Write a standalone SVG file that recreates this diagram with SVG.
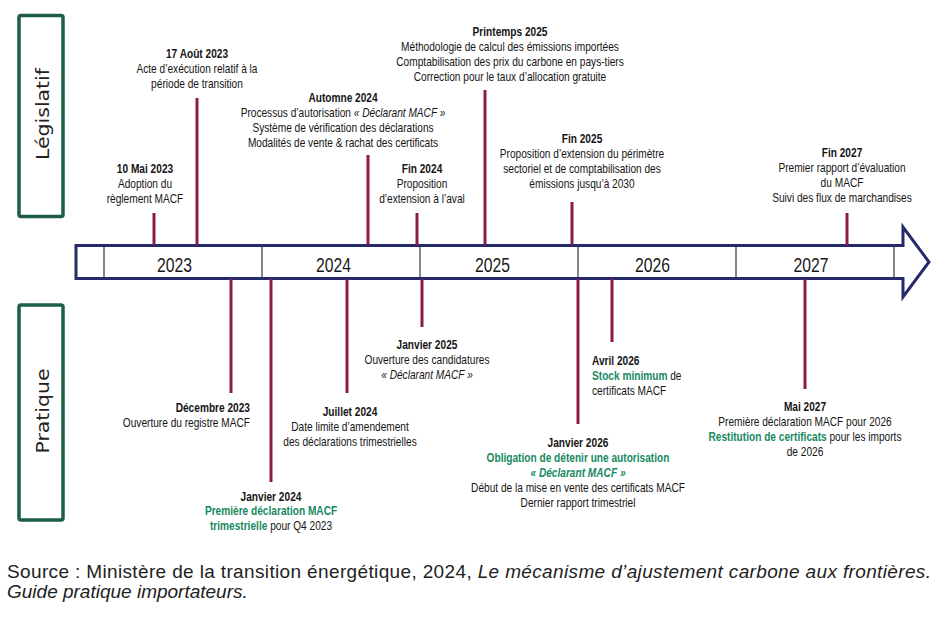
<svg xmlns="http://www.w3.org/2000/svg" width="938" height="618" viewBox="0 0 938 618">
<style>
.t{font-family:"Liberation Sans",Arial,sans-serif;font-size:12px;fill:#151515;text-anchor:middle}
.s{text-anchor:start}
.e{text-anchor:end}
.b{font-weight:bold}
.g{fill:#178a5f;font-weight:bold}
.i{font-style:italic}
.tick{stroke:#8a1e3e;stroke-width:3;fill:none}
.side{fill:none;stroke:#1d5e44;stroke-width:3.5}
.lab{font-family:"DejaVu Sans",sans-serif;font-size:18px;fill:#222;text-anchor:middle}
.yr{font-family:"Liberation Sans",Arial,sans-serif;font-size:20px;fill:#1a1a1a;text-anchor:middle}
.div{stroke:#454545;stroke-width:1.3}
.src{font-family:"Liberation Sans",Arial,sans-serif;font-size:19px;fill:#222}
</style>
<rect width="938" height="618" fill="#fff"/>
<g id="legislatif">
<rect class="side" x="19" y="15.5" width="44" height="201" rx="2"/>
<text class="lab" transform="translate(49,114) rotate(-90)" textLength="92" lengthAdjust="spacingAndGlyphs">Législatif</text>
</g>
<g id="pratique">
<rect class="side" x="19" y="305" width="44" height="215" rx="2"/>
<text class="lab" transform="translate(48.5,411) rotate(-90)" textLength="85" lengthAdjust="spacingAndGlyphs">Pratique</text>
</g>
<g id="timeline">
<path d="M76,245.5 H903 V227 L929,262 L903,297 V278.5 H76 Z" fill="#fff" stroke="#262a6b" stroke-width="3" stroke-linejoin="miter"/>
<line class="div" x1="104" y1="247" x2="104" y2="277"/>
<line class="div" x1="262" y1="247" x2="262" y2="277"/>
<line class="div" x1="420" y1="247" x2="420" y2="277"/>
<line class="div" x1="578" y1="247" x2="578" y2="277"/>
<line class="div" x1="736" y1="247" x2="736" y2="277"/>
<line class="div" x1="894" y1="247" x2="894" y2="277"/>
<text class="yr" x="174.5" y="272" textLength="35" lengthAdjust="spacingAndGlyphs">2023</text>
<text class="yr" x="333.5" y="272" textLength="35" lengthAdjust="spacingAndGlyphs">2024</text>
<text class="yr" x="492.5" y="272" textLength="35" lengthAdjust="spacingAndGlyphs">2025</text>
<text class="yr" x="652.5" y="272" textLength="35" lengthAdjust="spacingAndGlyphs">2026</text>
<text class="yr" x="811" y="272" textLength="35" lengthAdjust="spacingAndGlyphs">2027</text>
</g>
<g id="connectors">
<line class="tick" x1="154" y1="213" x2="154" y2="245"/>
<line class="tick" x1="197" y1="98" x2="197" y2="245"/>
<line class="tick" x1="368" y1="155" x2="368" y2="245"/>
<line class="tick" x1="417" y1="213" x2="417" y2="245"/>
<line class="tick" x1="485" y1="90" x2="485" y2="245"/>
<line class="tick" x1="572" y1="202" x2="572" y2="245"/>
<line class="tick" x1="847" y1="213" x2="847" y2="245"/>
<line class="tick" x1="231" y1="279" x2="231" y2="393"/>
<line class="tick" x1="271" y1="279" x2="271" y2="482"/>
<line class="tick" x1="347" y1="279" x2="347" y2="393"/>
<line class="tick" x1="422" y1="279" x2="422" y2="327"/>
<line class="tick" x1="578" y1="279" x2="578" y2="424"/>
<line class="tick" x1="612" y1="279" x2="612" y2="342"/>
<line class="tick" x1="805" y1="279" x2="805" y2="389"/>
</g>
<g id="n-mai2023" transform="translate(145,0) scale(0.845,1)">
<text class="t b" x="0" y="173">10 Mai 2023</text>
<text class="t" x="0" y="188">Adoption du</text>
<text class="t" x="0" y="203.5">règlement MACF</text>
</g>
<g id="n-aout2023" transform="translate(197,0) scale(0.845,1)">
<text class="t b" x="0" y="58">17 Août 2023</text>
<text class="t" x="0" y="73">Acte d’exécution relatif à la</text>
<text class="t" x="0" y="88">période de transition</text>
</g>
<g id="n-automne2024" transform="translate(343,0) scale(0.845,1)">
<text class="t b" x="0" y="102">Automne 2024</text>
<text class="t" x="0" y="117">Processus d’autorisation <tspan class="i">« Déclarant MACF »</tspan></text>
<text class="t" x="0" y="132">Système de vérification des déclarations</text>
<text class="t" x="0" y="147">Modalités de vente &amp; rachat des certificats</text>
</g>
<g id="n-fin2024" transform="translate(422,0) scale(0.845,1)">
<text class="t b" x="0" y="173">Fin 2024</text>
<text class="t" x="0" y="188">Proposition</text>
<text class="t" x="0" y="203">d’extension à l’aval</text>
</g>
<g id="n-printemps2025" transform="translate(510,0) scale(0.845,1)">
<text class="t b" x="0" y="36">Printemps 2025</text>
<text class="t" x="0" y="51">Méthodologie de calcul des émissions importées</text>
<text class="t" x="0" y="66">Comptabilisation des prix du carbone en pays-tiers</text>
<text class="t" x="0" y="81">Correction pour le taux d’allocation gratuite</text>
</g>
<g id="n-fin2025" transform="translate(582,0) scale(0.845,1)">
<text class="t b" x="0" y="143">Fin 2025</text>
<text class="t" x="0" y="158">Proposition d’extension du périmètre</text>
<text class="t" x="0" y="173">sectoriel et de comptabilisation des</text>
<text class="t" x="0" y="188">émissions jusqu’à 2030</text>
</g>
<g id="n-fin2027" transform="translate(842,0) scale(0.845,1)">
<text class="t b" x="0" y="157">Fin 2027</text>
<text class="t" x="0" y="172">Premier rapport d’évaluation</text>
<text class="t" x="0" y="187">du MACF</text>
<text class="t" x="0" y="202">Suivi des flux de marchandises</text>
</g>
<g id="n-dec2023" transform="translate(250,0) scale(0.845,1)">
<text class="t e b" x="0" y="412">Décembre 2023</text>
<text class="t e" x="0" y="427">Ouverture du registre MACF</text>
</g>
<g id="n-jan2024" transform="translate(271,0) scale(0.845,1)">
<text class="t b" x="0" y="501">Janvier 2024</text>
<text class="t g" x="0" y="515">Première déclaration MACF</text>
<text class="t" x="0" y="530"><tspan class="g">trimestrielle</tspan> pour Q4 2023</text>
</g>
<g id="n-juil2024" transform="translate(350,0) scale(0.845,1)">
<text class="t b" x="0" y="416">Juillet 2024</text>
<text class="t" x="0" y="431">Date limite d’amendement</text>
<text class="t" x="0" y="446">des déclarations trimestrielles</text>
</g>
<g id="n-jan2025" transform="translate(427,0) scale(0.845,1)">
<text class="t b" x="0" y="349">Janvier 2025</text>
<text class="t" x="0" y="364">Ouverture des candidatures</text>
<text class="t i" x="0" y="379">« Déclarant MACF »</text>
</g>
<g id="n-avr2026" transform="translate(592,0) scale(0.845,1)">
<text class="t s b" x="0" y="365">Avril 2026</text>
<text class="t s" x="0" y="380"><tspan class="g">Stock minimum</tspan> de</text>
<text class="t s" x="0" y="395">certificats MACF</text>
</g>
<g id="n-jan2026" transform="translate(578,0) scale(0.845,1)">
<text class="t b" x="0" y="447">Janvier 2026</text>
<text class="t g" x="0" y="462">Obligation de détenir une autorisation</text>
<text class="t g i" x="0" y="477">« Déclarant MACF »</text>
<text class="t" x="0" y="492">Début de la mise en vente des certificats MACF</text>
<text class="t" x="0" y="507">Dernier rapport trimestriel</text>
</g>
<g id="n-mai2027" transform="translate(805,0) scale(0.845,1)">
<text class="t b" x="0" y="411">Mai 2027</text>
<text class="t" x="0" y="426">Première déclaration MACF pour 2026</text>
<text class="t" x="0" y="441"><tspan class="g">Restitution de certificats</tspan> pour les imports</text>
<text class="t" x="0" y="456">de 2026</text>
</g>
<g id="source">
<text class="src" x="7" y="578" textLength="924" lengthAdjust="spacing">Source : Ministère de la transition énergétique, 2024, <tspan font-style="italic">Le mécanisme d’ajustement carbone aux frontières.</tspan></text>
<text class="src" x="7" y="598" font-style="italic">Guide pratique importateurs.</text>
</g>
</svg>
